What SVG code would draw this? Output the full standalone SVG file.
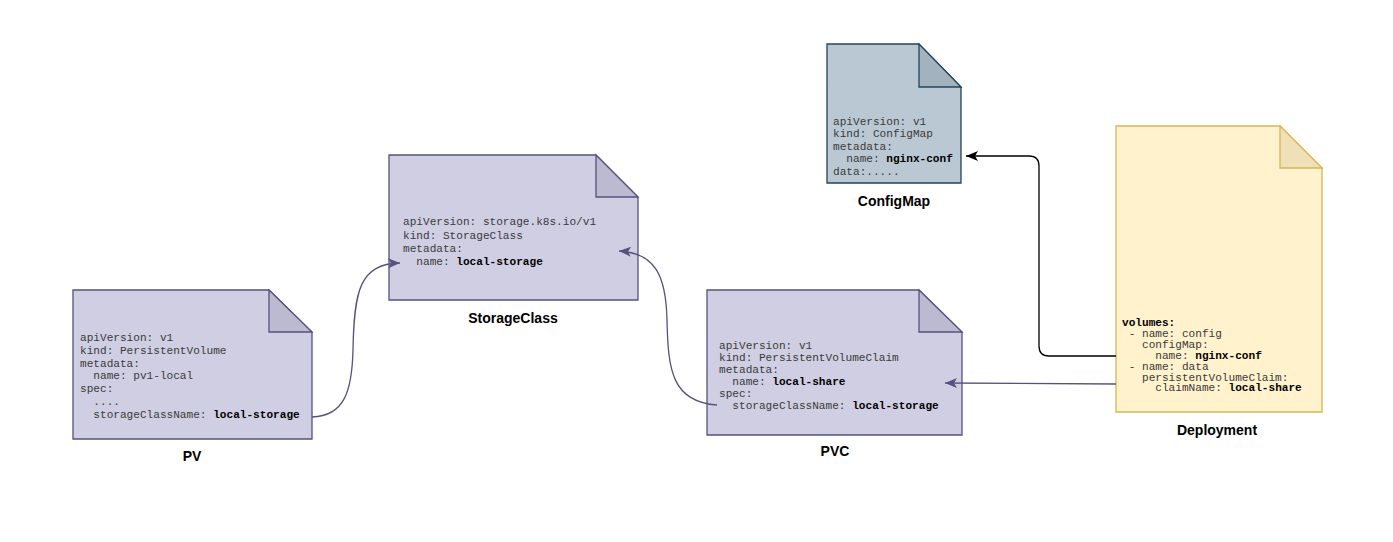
<svg xmlns="http://www.w3.org/2000/svg" width="1393" height="542" viewBox="0 0 1393 542">
<style>
.mono{font-family:"Liberation Mono","Courier New",monospace;font-size:11.1px;fill:#3a3a3a;white-space:pre}
.b{font-weight:bold;fill:#000}
.lbl{font-family:"Liberation Sans",Arial,sans-serif;font-size:14px;font-weight:bold;fill:#000;text-anchor:middle}
.pu{fill:#d0cee2;stroke:#56517e;stroke-width:1.3}
.pufold{fill:#bcbad1;stroke:#56517e;stroke-width:1.3}
.cm{fill:#bac8d3;stroke:#23445d;stroke-width:1.3}
.cmfold{fill:#a3b2bf;stroke:#23445d;stroke-width:1.3}
.dp{fill:#fff2cc;stroke:#d6b656;stroke-width:1.3}
.dpfold{fill:#efe0b7;stroke:#d6b656;stroke-width:1.3}
.edge{fill:none;stroke-width:1.3}
</style>
<defs>
<marker id="arrP" viewBox="0 0 12 10" refX="12" refY="5" markerWidth="12" markerHeight="10" markerUnits="userSpaceOnUse" orient="auto">
<path d="M0,0 L12,5 L0,10 L3,5 Z" fill="#56517e"/>
</marker>
<marker id="arrK" viewBox="0 0 12 10" refX="12" refY="5" markerWidth="12" markerHeight="10" markerUnits="userSpaceOnUse" orient="auto">
<path d="M0,0 L12,5 L0,10 L3,5 Z" fill="#000"/>
</marker>
</defs>
<rect width="1393" height="542" fill="#fff"/>

<g id="pv">
<path class="pu" d="M73,290 H269 L312,332 V439 H73 Z"/>
<path class="pufold" d="M269,290 V332 H312 Z"/>
<text class="mono" x="80" y="341">apiVersion: v1</text>
<text class="mono" x="80" y="353.8">kind: PersistentVolume</text>
<text class="mono" x="80" y="366.6">metadata:</text>
<text class="mono" x="80" y="379.4">  name: pv1-local</text>
<text class="mono" x="80" y="392.2">spec:</text>
<text class="mono" x="80" y="405">  ....</text>
<text class="mono" x="80" y="417.8">  storageClassName: <tspan class="b">local-storage</tspan></text>
<text class="lbl" x="192" y="461">PV</text>
</g>

<g id="storageclass">
<path class="pu" d="M389,155 H596 L638,197 V300 H389 Z"/>
<path class="pufold" d="M596,155 V197 H638 Z"/>
<text class="mono" x="403" y="225">apiVersion: storage.k8s.io/v1</text>
<text class="mono" x="403" y="238.5">kind: StorageClass</text>
<text class="mono" x="403" y="251.5">metadata:</text>
<text class="mono" x="403" y="264.5">  name: <tspan class="b">local-storage</tspan></text>
<text class="lbl" x="513" y="323">StorageClass</text>
</g>

<g id="pvc">
<path class="pu" d="M707,290 H919 L962,332 V435 H707 Z"/>
<path class="pufold" d="M919,290 V332 H962 Z"/>
<text class="mono" x="719" y="348.5">apiVersion: v1</text>
<text class="mono" x="719" y="360.5">kind: PersistentVolumeClaim</text>
<text class="mono" x="719" y="372.5">metadata:</text>
<text class="mono" x="719" y="384.5">  name: <tspan class="b">local-share</tspan></text>
<text class="mono" x="719" y="396.5">spec:</text>
<text class="mono" x="719" y="408.5">  storageClassName: <tspan class="b">local-storage</tspan></text>
<text class="lbl" x="835" y="456">PVC</text>
</g>

<g id="configmap">
<path class="cm" d="M827,44 H919 L961,87 V183 H827 Z"/>
<path class="cmfold" d="M919,44 V87 H961 Z"/>
<text class="mono" x="833" y="125">apiVersion: v1</text>
<text class="mono" x="833" y="137.4">kind: ConfigMap</text>
<text class="mono" x="833" y="149.8">metadata:</text>
<text class="mono" x="833" y="162.2">  name: <tspan class="b">nginx-conf</tspan></text>
<text class="mono" x="833" y="174.6">data:.....</text>
<text class="lbl" x="894" y="206">ConfigMap</text>
</g>

<g id="deployment">
<path class="dp" d="M1116,126 H1280 L1322,168 V412 H1116 Z"/>
<path class="dpfold" d="M1280,126 V168 H1322 Z"/>
<text class="mono b" x="1122" y="326">volumes:</text>
<text class="mono" x="1122" y="336.9"> - name: config</text>
<text class="mono" x="1122" y="347.8">   configMap:</text>
<text class="mono" x="1122" y="358.7">     name: <tspan class="b">nginx-conf</tspan></text>
<text class="mono" x="1122" y="369.6"> - name: data</text>
<text class="mono" x="1122" y="380.5">   persistentVolumeClaim:</text>
<text class="mono" x="1122" y="391.4">     claimName: <tspan class="b">local-share</tspan></text>
<text class="lbl" x="1217" y="435">Deployment</text>
</g>

<g id="connectors">
<path class="edge" stroke="#56517e" marker-end="url(#arrP)" d="M312,417 C345,416 352,390 353,350 C354,290 360,264 400,263"/>
<path class="edge" stroke="#56517e" marker-end="url(#arrP)" d="M717,405 C672,402 668,370 667,320 C666,275 655,253 619,251"/>
<path class="edge" stroke="#000" marker-end="url(#arrK)" d="M1116,356 H1049 Q1039,356 1039,346 V166 Q1039,156 1029,156 H966"/>
<path class="edge" stroke="#56517e" marker-end="url(#arrP)" d="M1116,384 L945,383"/>
</g>
</svg>
